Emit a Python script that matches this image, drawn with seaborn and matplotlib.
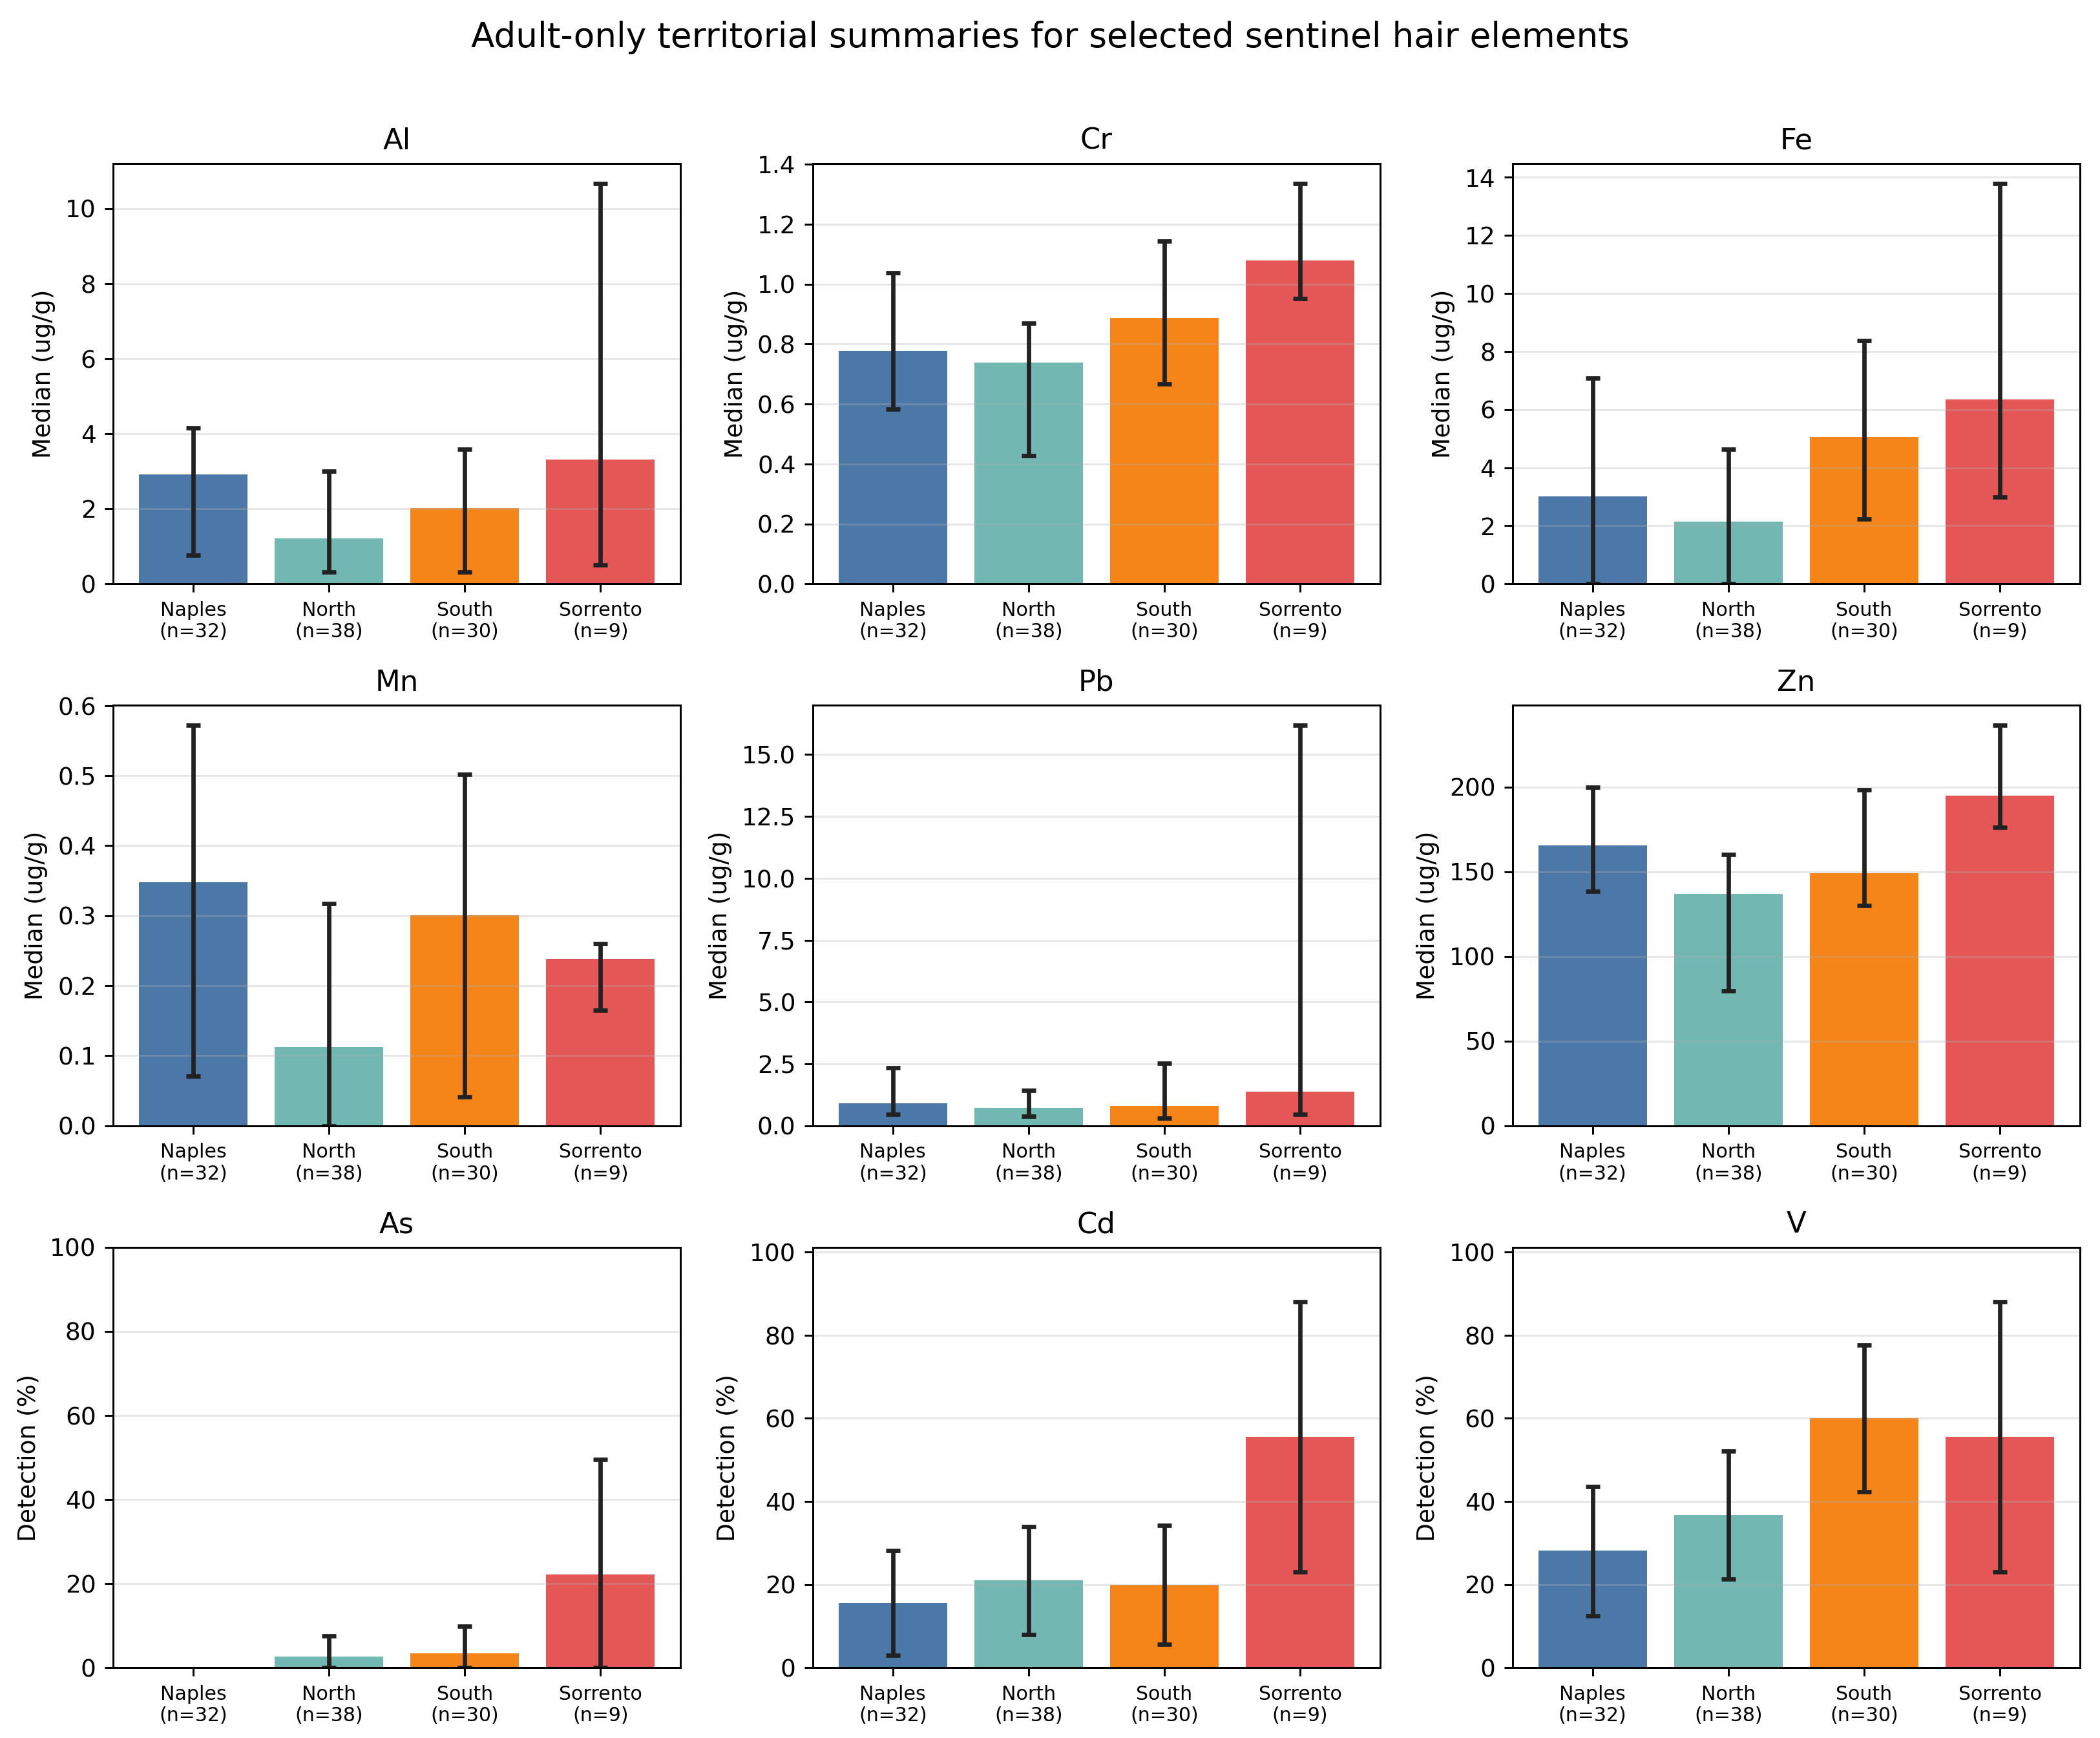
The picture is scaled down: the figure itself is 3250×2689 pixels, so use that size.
import matplotlib
matplotlib.use("Agg")
import matplotlib.pyplot as plt
import seaborn as sns
import numpy as np

# Regions and sample sizes
regions = ["Naples", "North", "South", "Sorrento"]
n_sizes = [32, 38, 30, 9]
colors = ["#4C78A8", "#72B7B2", "#F58518", "#E45756"]

# Medians (ug/g) with interval bounds
al_med = [2.92, 1.21, 2.02, 3.32]
al_lo = [0.76, 0.32, 0.32, 0.51]
al_hi = [4.16, 3.00, 3.58, 10.67]

cr_med = [0.776, 0.739, 0.888, 1.080]
cr_lo = [0.584, 0.428, 0.668, 0.952]
cr_hi = [1.039, 0.870, 1.143, 1.336]

fe_med = [3.01, 2.15, 5.07, 6.35]
fe_lo = [0.0, 0.0, 2.24, 2.98]
fe_hi = [7.08, 4.63, 8.38, 13.79]

mn_med = [0.348, 0.112, 0.301, 0.238]
mn_lo = [0.071, 0.0, 0.041, 0.165]
mn_hi = [0.572, 0.317, 0.502, 0.260]

pb_med = [0.91, 0.73, 0.79, 1.38]
pb_lo = [0.47, 0.38, 0.31, 0.47]
pb_hi = [2.33, 1.44, 2.53, 16.18]

zn_med = [165.5, 136.9, 149.1, 194.9]
zn_lo = [138.5, 79.5, 130.1, 176.3]
zn_hi = [200.0, 160.3, 198.4, 236.4]

# Detection rates (%) with interval bounds
as_det = [0.0, 2.63, 3.33, 22.2]
as_lo = [0.0, 0.0, 0.0, 0.0]
as_hi = [0.0, 7.6, 9.8, 49.5]

cd_det = [15.6, 21.05, 20.0, 55.6]
cd_lo = [2.9, 7.9, 5.6, 23.1]
cd_hi = [28.2, 34.0, 34.3, 88.0]

v_det = [28.1, 36.8, 60.0, 55.6]
v_lo = [12.4, 21.3, 42.3, 23.1]
v_hi = [43.6, 52.1, 77.6, 88.0]

panels = [
    ("Al", al_med, al_lo, al_hi, "median"),
    ("Cr", cr_med, cr_lo, cr_hi, "median"),
    ("Fe", fe_med, fe_lo, fe_hi, "median"),
    ("Mn", mn_med, mn_lo, mn_hi, "median"),
    ("Pb", pb_med, pb_lo, pb_hi, "median"),
    ("Zn", zn_med, zn_lo, zn_hi, "median"),
    ("As", as_det, as_lo, as_hi, "detect"),
    ("Cd", cd_det, cd_lo, cd_hi, "detect"),
    ("V", v_det, v_lo, v_hi, "detect"),
]

labels = [f"{r}\n(n={n})" for r, n in zip(regions, n_sizes)]

fig, axes = plt.subplots(3, 3, figsize=(12.04, 9.96), dpi=270)
fig.subplots_adjust(left=0.0538, right=0.9902, bottom=0.0405, top=0.9059,
                    wspace=0.233, hspace=0.289)

for ax, (name, vals, lo, hi, kind) in zip(axes.flat, panels):
    vals = np.array(vals)
    lo = np.array(lo)
    hi = np.array(hi)
    sns.barplot(x=labels, y=vals, hue=labels, palette=colors, legend=False,
                saturation=1, width=0.8, ax=ax)
    x = np.arange(len(labels))
    # skip empty intervals (e.g. no detections at all)
    ok = hi > lo
    ax.errorbar(x[ok], vals[ok], yerr=[vals[ok] - lo[ok], hi[ok] - vals[ok]],
                fmt="none", ecolor="#222222", elinewidth=1.8, capsize=3, capthick=1.8)
    ax.set_xlim(-0.59, 3.59)
    ax.set_title(name, fontsize=12)
    ax.set_xlabel("")
    if kind == "median":
        ax.set_ylabel("Median (ug/g)", fontsize=10)
    else:
        ax.set_ylabel("Detection (%)", fontsize=10)
        ax.set_ylim(0, max(100, hi.max() * 1.15))
    ax.tick_params(axis="x", labelsize=8)
    ax.tick_params(axis="y", labelsize=10)
    ax.grid(axis="y", alpha=0.3)

fig.suptitle("Adult-only territorial summaries for selected sentinel hair elements",
             fontsize=14.2, y=0.988)

fig.savefig("out.png", dpi=270)
